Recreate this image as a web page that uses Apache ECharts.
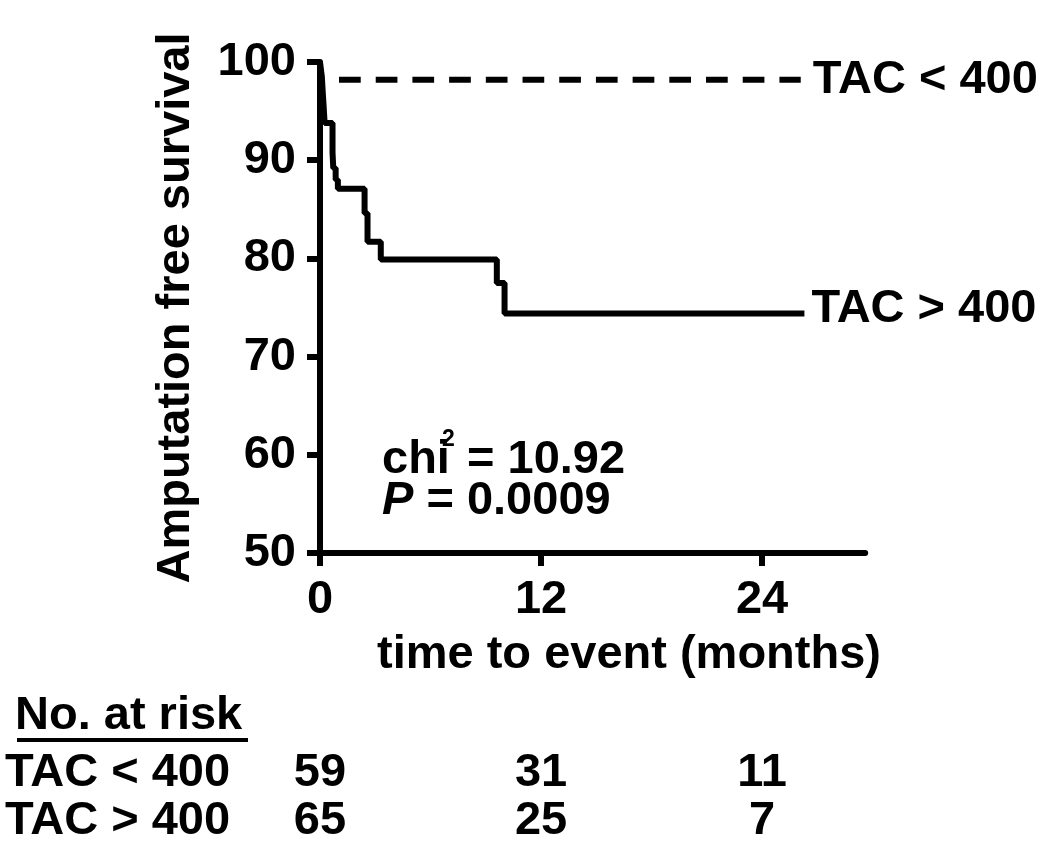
<!DOCTYPE html>
<html><head><meta charset="utf-8">
<script src="https://cdn.jsdelivr.net/npm/echarts@6/dist/echarts.min.js"></script>
<style>html,body{margin:0;padding:0;background:#fff}#c{width:1050px;height:860px}</style>
</head><body><div id="c"></div>
<script>
// ---- data ----
const xTicks = [0, 12, 24];
const yMin = 50, yMax = 100, yStep = 10;
const lowName = 'TAC < 400';
const highName = 'TAC > 400';
const lowTimes = [0, 0, 26.1];
const lowSurv = [100, 98.2, 98.2];
const highTimes = [0, 0.1, 0.15, 0.2, 0.25, 0.68, 0.72, 0.85, 0.97, 2.42, 2.58, 3.3, 9.6, 10.02, 26.3];
const highSurv = [100, 98.5, 96.9, 95.4, 93.8, 90.8, 89.2, 88.0, 87.1, 84.6, 81.7, 79.9, 77.5, 74.4, 74.4];
const riskTimes = [0, 12, 24];
const riskLow = [59, 31, 11];
const riskHigh = [65, 25, 7];
const groups = [lowName, highName];
const statLine1 = ['chi', '2', '= 10.92'];
const statP = '0.0009';

// ---- chart ----
const FF = '"Liberation Sans", Arial, sans-serif';
const txt = { fontSize: 47, fontWeight: 'bold', fontFamily: FF, color: '#000' };
const font = (s) => 'bold ' + s + 'px ' + FF;

const zip = (a, b) => a.map((v, i) => [v, b[i]]);
const riskData = [];
riskTimes.forEach((t, i) => {
  riskData.push([t, lowName, riskLow[i]]);
  riskData.push([t, highName, riskHigh[i]]);
});

const chart = echarts.init(document.getElementById('c'), null, { renderer: 'canvas' });
const gridW = 545.2;
chart.setOption({
  animation: false,
  backgroundColor: '#fff',
  grid: [
    { left: 320, top: 62, width: gridW, height: 491 },
    { left: 320, top: 749.5, width: gridW, height: 96 }
  ],
  xAxis: [
    {
      gridIndex: 0, type: 'value', min: 0, max: 29.6,
      axisLine: { show: true, lineStyle: { color: '#000', width: 6 } },
      axisTick: { show: true, length: 13, customValues: xTicks, lineStyle: { color: '#000', width: 6 } },
      axisLabel: Object.assign({ customValues: xTicks, margin: 24 }, txt),
      splitLine: { show: false }
    },
    { gridIndex: 1, type: 'value', min: 0, max: 29.6, show: false }
  ],
  yAxis: [
    {
      gridIndex: 0, type: 'value', min: yMin, max: yMax, interval: yStep,
      axisLine: { show: true, lineStyle: { color: '#000', width: 6 } },
      axisTick: { show: true, length: 13, lineStyle: { color: '#000', width: 6 } },
      axisLabel: Object.assign({ margin: 24 }, txt),
      splitLine: { show: false }
    },
    {
      gridIndex: 1, type: 'category', data: groups, inverse: true,
      axisLine: { show: false }, axisTick: { show: false }, splitLine: { show: false },
      axisLabel: Object.assign({ align: 'left', margin: 315, interval: 0, hideOverlap: false }, txt)
    }
  ],
  series: [
    {
      name: lowName, type: 'line', xAxisIndex: 0, yAxisIndex: 0, step: 'end',
      data: zip(lowTimes, lowSurv), symbol: 'none',
      lineStyle: { color: '#000', width: 6, type: [21.7, 15] },
      endLabel: Object.assign({ show: true, formatter: lowName, distance: 12 }, txt)
    },
    {
      name: highName, type: 'line', xAxisIndex: 0, yAxisIndex: 0, step: 'end',
      data: zip(highTimes, highSurv), symbol: 'none',
      lineStyle: { color: '#000', width: 6 },
      endLabel: Object.assign({ show: true, formatter: highName, distance: 7, offset: [0, -4.5] }, txt)
    },
    {
      type: 'scatter', xAxisIndex: 1, yAxisIndex: 1, data: riskData,
      symbol: 'circle', symbolSize: 0, itemStyle: { color: '#000', opacity: 1 },
      emphasis: { disabled: true },
      label: Object.assign({ show: true, position: 'inside', formatter: p => String(p.value[2]),
        textBorderWidth: 0, opacity: 1 }, txt)
    }
  ],
  graphic: [
    { type: 'text', x: 176, y: 308, rotation: Math.PI / 2,
      style: { text: 'Amputation free survival', font: font(47), fill: '#000', textAlign: 'center', textVerticalAlign: 'middle' } },
    { type: 'text', x: 629, y: 655,
      style: { text: 'time to event (months)', font: font(47), fill: '#000', textAlign: 'center', textVerticalAlign: 'middle' } },
    { type: 'text', x: 382, y: 460,
      style: { text: statLine1[0], font: font(47), fill: '#000', textAlign: 'left', textVerticalAlign: 'middle' } },
    { type: 'text', x: 442, y: 440,
      style: { text: statLine1[1], font: font(23), fill: '#000', textAlign: 'left', textVerticalAlign: 'middle' } },
    { type: 'text', x: 467, y: 460,
      style: { text: statLine1[2], font: font(47), fill: '#000', textAlign: 'left', textVerticalAlign: 'middle' } },
    { type: 'text', x: 382, y: 501,
      style: { text: '{i|P}{n| = ' + statP + '}', fill: '#000', textAlign: 'left', textVerticalAlign: 'middle',
        rich: {
          i: { fontStyle: 'italic', fontWeight: 'bold', fontSize: 47, fontFamily: FF, color: '#000' },
          n: { fontWeight: 'bold', fontSize: 47, fontFamily: FF, color: '#000' }
        } } },
    { type: 'text', x: 15, y: 716,
      style: { text: 'No. at risk', font: font(47), fill: '#000', textAlign: 'left', textVerticalAlign: 'middle' } },
    { type: 'line', shape: { x1: 17, y1: 740, x2: 248, y2: 740 }, style: { stroke: '#000', lineWidth: 4 } }
  ]
});
</script></body></html>
